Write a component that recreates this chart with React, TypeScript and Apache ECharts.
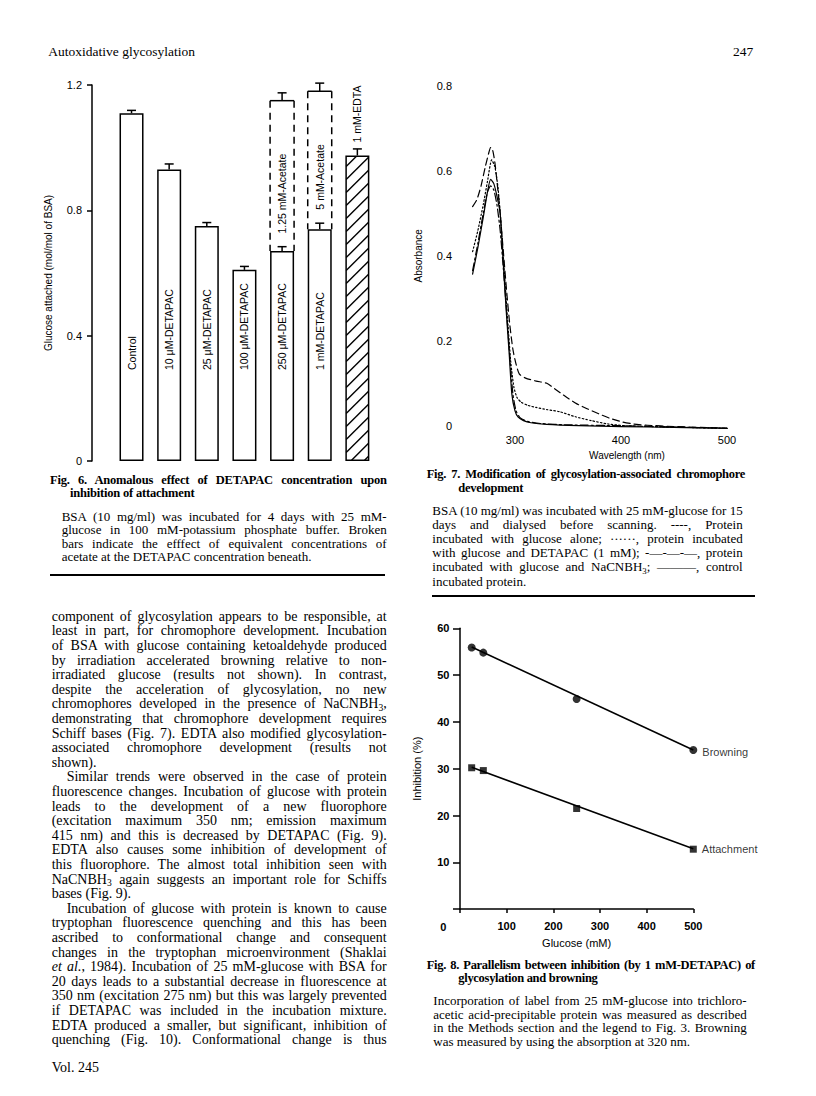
import React, { useEffect, useLayoutEffect, useRef } from 'react';
import * as echarts from 'echarts';

const SANS = '"Liberation Sans", Arial, Helvetica, sans-serif';
const SERIF = '"Liberation Serif", "Times New Roman", serif';

// ---------------- Fig. 6 data ----------------
const fig6Categories = ['Control', '10 μM-DETAPAC', '25 μM-DETAPAC', '100 μM-DETAPAC', '250 μM-DETAPAC', '1 mM-DETAPAC', '1 mM-EDTA'];
const fig6Values = [1.11, 0.93, 0.75, 0.61, 0.67, 0.74, 0.975];
const fig6Errors = [0.009, 0.018, 0.011, 0.011, 0.014, 0.019, 0.021];
const hatchedCategoryIndex = [6];
const acetateCategoryIndex = [4, 5];
const acetateLabels = ['1.25 mM-Acetate', '5 mM-Acetate'];
const acetateValues = [1.15, 1.18];
const acetateErrors = [0.025, 0.026];

// ---------------- Fig. 7 data ----------------
const wlGlucoseAlone = [260, 264, 268, 272, 275, 277, 279, 281, 283, 286, 289, 292, 295, 298, 301, 304, 310, 320, 330, 338, 348, 358, 368, 379, 390, 401, 412, 425, 450, 475, 500];
const absGlucoseAlone = [0.516, 0.532, 0.565, 0.61, 0.64, 0.655, 0.648, 0.62, 0.575, 0.5, 0.41, 0.32, 0.24, 0.18, 0.145, 0.122, 0.112, 0.105, 0.1, 0.086, 0.068, 0.052, 0.04, 0.028, 0.017, 0.009, 0.004, 0.001, -0.002, -0.004, -0.006];
const wlDetapac = [260, 265, 270, 274, 278, 281, 284, 287, 290, 293, 296, 299, 302, 306, 312, 320, 330, 342, 357, 372, 388, 404, 430, 460, 500];
const absDetapac = [0.41, 0.46, 0.52, 0.575, 0.626, 0.61, 0.56, 0.47, 0.36, 0.25, 0.15, 0.09, 0.066, 0.055, 0.048, 0.043, 0.038, 0.033, 0.021, 0.012, 0.004, 0.0, -0.002, -0.004, -0.006];
const wlNaCNBH3 = [260, 265, 270, 274, 277, 280, 283, 286, 289, 292, 295, 298, 301, 305, 312, 325, 350, 400, 450, 500];
const absNaCNBH3 = [0.365, 0.43, 0.5, 0.55, 0.565, 0.555, 0.52, 0.46, 0.37, 0.27, 0.165, 0.075, 0.035, 0.018, 0.01, 0.005, 0.002, 0.0, -0.003, -0.006];
const wlControl = [260, 265, 270, 274, 277, 280, 283, 286, 289, 292, 294.5, 297, 300, 303, 308, 315, 330, 360, 400, 450, 500];
const absControl = [0.357, 0.42, 0.49, 0.55, 0.58, 0.57, 0.54, 0.5, 0.38, 0.26, 0.17, 0.075, 0.035, 0.02, 0.012, 0.007, 0.003, 0.0, -0.002, -0.004, -0.006];

// ---------------- Fig. 8 data ----------------
const glucoseConc = [25, 50, 250, 500];
const browningInhibition = [55.9, 54.8, 44.9, 34.0];
const attachmentInhibition = [30.2, 29.6, 21.5, 12.8];
const fitConc = [25, 500];
const browningFit = [56.0, 34.0];
const attachmentFit = [30.3, 12.9];
const fig8Names = ['Browning', 'Attachment'];

// ---------------- Text ----------------
const headerLeft = 'Autoxidative glycosylation';
const headerRight = '247';
const footer = 'Vol. 245';

const fig6TitleLines = ['Fig. 6. Anomalous effect of DETAPAC concentration upon', 'inhibition of attachment'];
const fig6CaptionLines = [
  'BSA (10 mg/ml) was incubated for 4 days with 25 mM-',
  'glucose in 100 mM-potassium phosphate buffer. Broken',
  'bars indicate the efffect of equivalent concentrations of',
  'acetate at the DETAPAC concentration beneath.',
];
const fig7TitleLines = ['Fig. 7. Modification of glycosylation-associated chromophore', 'development'];
const fig7CaptionLines = [
  'BSA (10 mg/ml) was incubated with 25 mM-glucose for 15',
  'days and dialysed before scanning. ----, Protein',
  'incubated with glucose alone; ······, protein incubated',
  'with glucose and DETAPAC (1 mM); -—-—-—, protein',
  'incubated with glucose and NaCNBH_3; ———, control',
  'incubated protein.',
];
const fig8TitleLines = ['Fig. 8. Parallelism between inhibition (by 1 mM-DETAPAC) of', 'glycosylation and browning'];
const fig8CaptionLines = [
  'Incorporation of label from 25 mM-glucose into trichloro-',
  'acetic acid-precipitable protein was measured as described',
  'in the Methods section and the legend to Fig. 3. Browning',
  'was measured by using the absorption at 320 nm.',
];
const bodyLines = [
  'component of glycosylation appears to be responsible, at',
  'least in part, for chromophore development. Incubation',
  'of BSA with glucose containing ketoaldehyde produced',
  'by irradiation accelerated browning relative to non-',
  'irradiated glucose (results not shown). In contrast,',
  'despite the acceleration of glycosylation, no new',
  'chromophores developed in the presence of NaCNBH_3,',
  'demonstrating that chromophore development requires',
  'Schiff bases (Fig. 7). EDTA also modified glycosylation-',
  'associated chromophore development (results not',
  'shown).',
  'Similar trends were observed in the case of protein',
  'fluorescence changes. Incubation of glucose with protein',
  'leads to the development of a new fluorophore',
  '(excitation maximum 350 nm; emission maximum',
  '415 nm) and this is decreased by DETAPAC (Fig. 9).',
  'EDTA also causes some inhibition of development of',
  'this fluorophore. The almost total inhibition seen with',
  'NaCNBH_3 again suggests an important role for Schiffs',
  'bases (Fig. 9).',
  'Incubation of glucose with protein is known to cause',
  'tryptophan fluorescence quenching and this has been',
  'ascribed to conformational change and consequent',
  'changes in the tryptophan microenvironment (Shaklai',
  '*et al.*, 1984). Incubation of 25 mM-glucose with BSA for',
  '20 days leads to a substantial decrease in fluorescence at',
  '350 nm (excitation 275 nm) but this was largely prevented',
  'if DETAPAC was included in the incubation mixture.',
  'EDTA produced a smaller, but significant, inhibition of',
  'quenching (Fig. 10). Conformational change is thus',
];
const bodyIndent = [11, 20];
const bodyRagged = [10, 19];

function parse(s: string) {
  return s.split(/(_\d|\*[^*]+\*)/).filter(Boolean).map((p, k) => {
    if (p.startsWith('_')) return <span key={k} style={{ fontSize: '0.68em', position: 'relative', top: '0.25em', lineHeight: 0 }}>{p.slice(1)}</span>;
    if (p.startsWith('*')) return <i key={k}>{p.slice(1, -1)}</i>;
    return <React.Fragment key={k}>{p}</React.Fragment>;
  });
}

function TextLine(props: { x: number; y: number; width?: number; size: number; text: string; bold?: boolean; justify?: boolean; tight?: number }) {
  const { x, y, width, size, text, bold, justify, tight } = props;
  const ref = useRef<HTMLDivElement>(null);
  useLayoutEffect(() => {
    const el = ref.current;
    if (!el || !justify || !width) return;
    el.style.wordSpacing = '0px';
    const natural = el.getBoundingClientRect().width;
    const spaces = (el.textContent || '').split(' ').length - 1;
    if (spaces > 0) el.style.wordSpacing = `${(width - natural) / spaces}px`;
  }, [text, width, justify]);
  return (
    <div
      ref={ref}
      style={{
        position: 'absolute', left: x, top: y - size * 0.61, fontFamily: SERIF, fontSize: size,
        fontWeight: bold ? 'bold' : 'normal', lineHeight: `${size}px`, whiteSpace: 'nowrap', color: '#000',
        letterSpacing: tight ? `${tight}px` : undefined,
      }}
    >
      {parse(text)}
    </div>
  );
}

function buildOption(): any {
  const axisText = { color: '#000', fontFamily: SANS, fontSize: 11 };
  const black = { color: '#000', width: 1.5 };

  const fig6BarData = fig6Values.map((v, i) => {
    const item: any = { value: [i + 1, v], name: fig6Categories[i] };
    if (hatchedCategoryIndex.includes(i)) item.label = { position: 'top', distance: 13 };
    return item;
  });

  const errData = fig6Values.map((v, i) => [i + 1, v, fig6Errors[i]])
    .concat(acetateCategoryIndex.map((c, i) => [c + 1, acetateValues[i], acetateErrors[i]]));

  const lineSeries = (wl: number[], ab: number[], type: any, name: string) => ({
    type: 'line', name, xAxisIndex: 1, yAxisIndex: 1, showSymbol: false, symbol: 'none', clip: false,
    smooth: 0.2,
    data: wl.map((w, i) => [w, ab[i]]),
    lineStyle: { color: '#000', width: 1.2, type, join: 'round', cap: 'round' },
  });

  const lastIdx = glucoseConc.length - 1;
  const scatterData = (vals: number[], name: string, dy: number) => glucoseConc.map((g, i) =>
    i === lastIdx
      ? { value: [g, vals[i]], label: { show: true, formatter: name, position: 'right', distance: 5, offset: [0, dy], color: '#000', fontFamily: SANS, fontSize: 11 } }
      : { value: [g, vals[i]] });

  return {
    animation: false,
    textStyle: { fontFamily: SANS, color: '#000' },
    grid: [
      { left: 92, top: 85, width: 303, height: 376 },
      { left: 409, top: 86, width: 318, height: 339.7 },
      { left: 460, top: 628.3, width: 233.3, height: 280.8 },
    ],
    xAxis: [
      { gridIndex: 0, type: 'value', min: -0.05, max: 8, show: false },
      {
        gridIndex: 1, type: 'value', min: 200, max: 500, interval: 100,
        axisLine: { show: false }, axisTick: { show: false }, splitLine: { show: false },
        axisLabel: { ...axisText, margin: 9, formatter: (v: number) => (v === 200 ? '' : String(v)) },
        name: 'Wavelength (nm)', nameLocation: 'middle', nameGap: 25,
        nameTextStyle: { color: '#000', fontFamily: SANS, fontSize: 10, padding: [0, 0, 0, 118] },
      },
      {
        gridIndex: 2, type: 'value', min: 0, max: 500, interval: 100,
        axisLine: { lineStyle: black }, axisTick: { length: 4, lineStyle: black }, splitLine: { show: false },
        axisLabel: { ...axisText, fontWeight: 'bold', margin: 11, formatter: (v: number) => (v === 0 ? '' : String(v)) },
        name: 'Glucose (mM)', nameLocation: 'middle', nameGap: 28,
        nameTextStyle: { color: '#000', fontFamily: SANS, fontSize: 11 },
      },
    ],
    yAxis: [
      {
        gridIndex: 0, type: 'value', min: 0, max: 1.2, interval: 0.4,
        axisLine: { onZero: false, lineStyle: black }, axisTick: { length: 5, lineStyle: black }, splitLine: { show: false },
        axisLabel: { ...axisText, margin: 10 },
        name: 'Glucose attached (mol/mol of BSA)', nameLocation: 'middle', nameGap: 39,
        nameTextStyle: { color: '#000', fontFamily: SANS, fontSize: 10 },
      },
      {
        gridIndex: 1, type: 'value', min: 0, max: 0.8, interval: 0.2, offset: -48,
        axisLine: { show: false, onZero: false }, axisTick: { show: false }, splitLine: { show: false },
        axisLabel: { ...axisText, margin: 5 },
        name: 'Absorbance', nameLocation: 'middle', nameGap: 34,
        nameTextStyle: { color: '#000', fontFamily: SANS, fontSize: 10 },
      },
      {
        gridIndex: 2, type: 'value', min: 0, max: 60, interval: 10,
        axisLine: { lineStyle: black }, axisTick: { length: 7, lineStyle: black }, splitLine: { show: false },
        axisLabel: { ...axisText, fontWeight: 'bold', margin: 10.5, formatter: (v: number) => (v === 0 ? '' : String(v)) },
        name: 'Inhibition (%)', nameLocation: 'middle', nameGap: 38,
        nameTextStyle: { color: '#000', fontFamily: SANS, fontSize: 11 },
      },
    ],
    series: [
      {
        type: 'custom', name: 'Acetate', coordinateSystem: 'cartesian2d', xAxisIndex: 0, yAxisIndex: 0, z: 1,
        encode: { x: 0, y: 1 }, clip: false,
        data: acetateCategoryIndex.map((c, i) => [c + 1, acetateValues[i], fig6Values[c]]),
        renderItem: (params: any, api: any) => {
          const i = params.dataIndex;
          const x = api.value(0);
          const top = api.coord([x, api.value(1)]);
          const base = api.coord([x, api.value(2)]);
          const hw = 12;
          const st = { stroke: '#000', lineWidth: 1.5 };
          const dash = { stroke: '#000', lineWidth: 1.5, lineDash: [7, 5] };
          return {
            type: 'group',
            children: [
              { type: 'line', shape: { x1: top[0] - hw, y1: top[1], x2: top[0] + hw, y2: top[1] }, style: st },
              { type: 'line', shape: { x1: top[0] - hw, y1: top[1], x2: top[0] - hw, y2: base[1] }, style: dash },
              { type: 'line', shape: { x1: top[0] + hw, y1: top[1], x2: top[0] + hw, y2: base[1] }, style: dash },
              {
                type: 'text', x: top[0], y: top[1] + 53, rotation: Math.PI / 2,
                style: {
                  text: acetateLabels[i], fill: '#000', fontFamily: SANS, fontSize: 10.5,
                  align: 'right', verticalAlign: 'middle', textAlign: 'right', textVerticalAlign: 'middle',
                },
              },
            ],
          };
        },
      },
      {
        type: 'bar', name: 'Glucose attached', xAxisIndex: 0, yAxisIndex: 0, z: 2, barWidth: 24,
        data: fig6BarData,
        itemStyle: { color: '#fff', borderColor: '#000', borderWidth: 1.5 },
        label: {
          show: true, formatter: '{b}', position: 'insideBottom', distance: 91, rotate: 90,
          align: 'left', verticalAlign: 'middle', color: '#000', fontFamily: SANS, fontSize: 10.5,
        },
      },
      {
        type: 'custom', name: 'EDTA hatch', coordinateSystem: 'cartesian2d', xAxisIndex: 0, yAxisIndex: 0, z: 3,
        encode: { x: 0, y: 1 }, clip: false,
        data: hatchedCategoryIndex.map((c) => [c + 1, fig6Values[c]]),
        renderItem: (params: any, api: any) => {
          const x = api.value(0);
          const top = api.coord([x, api.value(1)]);
          const bot = api.coord([x, 0]);
          const hw = 11.2;
          const xl = top[0] - hw, xr = top[0] + hw, w = xr - xl;
          const yT = top[1] + 0.8, yB = bot[1] - 0.8;
          const step = 13;
          const children: any[] = [];
          for (let c = yB + w - 4; c > yT; c -= step) {
            const xs = Math.max(xl, xl + c - yB);
            const xe = Math.min(xr, xl + c - yT);
            if (xe <= xs) continue;
            children.push({
              type: 'line',
              shape: { x1: xs, y1: c - (xs - xl), x2: xe, y2: c - (xe - xl) },
              style: { stroke: '#000', lineWidth: 1.4 },
            });
          }
          return { type: 'group', children };
        },
      },
      {
        type: 'custom', name: 'Error', coordinateSystem: 'cartesian2d', xAxisIndex: 0, yAxisIndex: 0, z: 4,
        encode: { x: 0, y: 1 }, clip: false, data: errData,
        renderItem: (params: any, api: any) => {
          const x = api.value(0), v = api.value(1), e = api.value(2);
          const p0 = api.coord([x, v]);
          const p1 = api.coord([x, v + e]);
          const st = { stroke: '#000', lineWidth: 1.5 };
          return {
            type: 'group',
            children: [
              { type: 'line', shape: { x1: p0[0], y1: p0[1], x2: p1[0], y2: p1[1] }, style: st },
              { type: 'line', shape: { x1: p1[0] - 4.5, y1: p1[1], x2: p1[0] + 4.5, y2: p1[1] }, style: st },
            ],
          };
        },
      },
      lineSeries(wlGlucoseAlone, absGlucoseAlone, [7, 4], 'Glucose alone'),
      lineSeries(wlDetapac, absDetapac, [1.5, 2.2], 'Glucose + DETAPAC'),
      lineSeries(wlNaCNBH3, absNaCNBH3, [8, 3, 2, 3], 'Glucose + NaCNBH3'),
      lineSeries(wlControl, absControl, 'solid', 'Control'),
      {
        type: 'line', name: 'Browning fit', xAxisIndex: 2, yAxisIndex: 2, symbol: 'none',
        data: fitConc.map((g, i) => [g, browningFit[i]]), lineStyle: { color: '#000', width: 1.5 },
      },
      {
        type: 'line', name: 'Attachment fit', xAxisIndex: 2, yAxisIndex: 2, symbol: 'none',
        data: fitConc.map((g, i) => [g, attachmentFit[i]]), lineStyle: { color: '#000', width: 1.5 },
      },
      {
        type: 'scatter', name: fig8Names[0], xAxisIndex: 2, yAxisIndex: 2, symbol: 'circle', symbolSize: 8,
        itemStyle: { color: '#000' }, data: scatterData(browningInhibition, fig8Names[0], 2),
      },
      {
        type: 'scatter', name: fig8Names[1], xAxisIndex: 2, yAxisIndex: 2, symbol: 'rect', symbolSize: 7,
        itemStyle: { color: '#000' }, data: scatterData(attachmentInhibition, fig8Names[1], 0),
      },
    ],
    graphic: [
      {
        type: 'text', x: 443.3, y: 926.7,
        style: {
          text: '0', fill: '#000', font: `bold 11px ${SANS}`, fontFamily: SANS, fontSize: 11, fontWeight: 'bold',
          align: 'center', verticalAlign: 'middle', textAlign: 'center', textVerticalAlign: 'middle',
        },
      },
    ],
  };
}

export default function App() {
  const chartRef = useRef<HTMLDivElement>(null);
  useEffect(() => {
    const el = chartRef.current;
    if (!el) return;
    const chart = echarts.init(el, undefined, { renderer: 'svg' });
    chart.setOption(buildOption());
    return () => chart.dispose();
  }, []);

  const rule = (x: number, y: number, w: number) => (
    <div style={{ position: 'absolute', left: x, top: y - 0.75, width: w, height: 1.5, background: '#000' }} />
  );

  return (
    <div style={{ position: 'absolute', left: 0, top: 0, width: 816, height: 1096, background: '#fff', overflow: 'hidden' }}>
      <div ref={chartRef} style={{ position: 'absolute', left: 0, top: 0, width: 816, height: 1096 }} />

      <TextLine x={48.3} y={53.3} size={13.5} text={headerLeft} />
      <TextLine x={733} y={53.3} size={13.5} text={headerRight} />

      {fig6TitleLines.map((t, i) => (
        <TextLine key={'t6' + i} x={i === 0 ? 50 : 70} y={[481.7, 494.3][i]} width={336.7} size={12.5} bold tight={-0.2} text={t} justify={i === 0} />
      ))}
      {fig6CaptionLines.map((t, i) => (
        <TextLine key={'c6' + i} x={61.7} y={[517.5, 531, 544.5, 558][i]} width={325} size={13} text={t} justify={i < fig6CaptionLines.length - 1} />
      ))}
      {rule(50, 575, 335)}

      {fig7TitleLines.map((t, i) => (
        <TextLine key={'t7' + i} x={i === 0 ? 426.7 : 458.3} y={[476, 490][i]} width={318.3} size={12.5} bold tight={-0.3} text={t} justify={i === 0} />
      ))}
      {fig7CaptionLines.map((t, i) => (
        <TextLine key={'c7' + i} x={432.3} y={[511.7, 526, 540, 554.3, 568.3, 582.7][i]} width={310.4} size={13} text={t} justify={i < fig7CaptionLines.length - 1} />
      ))}
      {rule(432, 596, 323)}

      {fig8TitleLines.map((t, i) => (
        <TextLine key={'t8' + i} x={i === 0 ? 426.7 : 458.3} y={[966.7, 979.3][i]} width={328.3} size={12.5} bold tight={-0.3} text={t} justify={i === 0} />
      ))}
      {fig8CaptionLines.map((t, i) => (
        <TextLine key={'c8' + i} x={433.3} y={[1001.7, 1015.7, 1029.3, 1043.3][i]} width={313.4} size={13} text={t} justify={i < fig8CaptionLines.length - 1} />
      ))}

      {bodyLines.map((t, i) => {
        const indent = bodyIndent.includes(i);
        return (
          <TextLine key={'b' + i} x={indent ? 66.7 : 51.7} y={618.3 + 14.6 * i} width={indent ? 320 : 335} size={14} text={t} justify={!bodyRagged.includes(i)} />
        );
      })}

      <TextLine x={51.7} y={1070} size={14} text={footer} />
    </div>
  );
}
